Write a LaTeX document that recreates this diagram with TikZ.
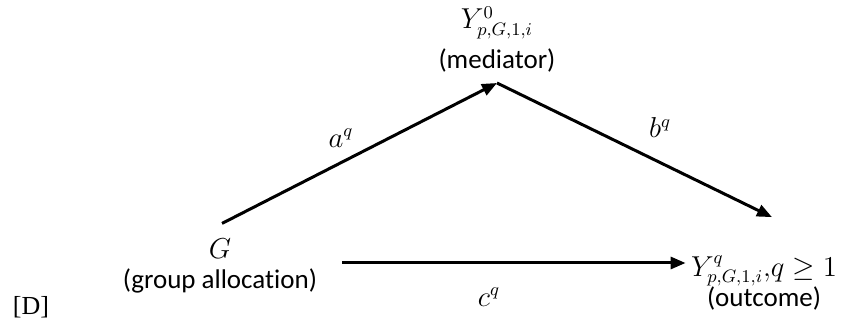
\documentclass[tikz,border=0pt]{standalone}
\usepackage{fontspec}
\setmainfont{Carlito}[Ligatures=NoCommon]
\newfontfamily\tagfont{Liberation Serif}
\usetikzlibrary{arrows.meta,calc}

\begin{document}
\begin{tikzpicture}[
  x=0.5pt, y=-0.5pt,
  font=\fontsize{13.5}{15}\selectfont,
  >={Triangle[length=7.5pt,width=6pt]},
  var/.style={align=center, inner sep=0pt},
  causal/.style={->, line width=1.5pt},
  coef/.style={inner sep=0pt},
]
\useasboundingbox (0,0) rectangle (841,320);

% --- variables ------------------------------------------------------
\node[var] (G) at (220,266) {$G$\\(group allocation)};
\node[var, anchor=south] (M) at (497,73) {$Y^{0}_{p,G,1,i}$\\[4pt](mediator)};
\node[var] (Y) at (764,283) {$Y^{q}_{p,G,1,i}{,}q \geq 1$\\(outcome)};
\node[font=\tagfont\fontsize{13}{15}\selectfont, inner sep=0pt] (tag) at (31,307) {[D]};

% --- effects --------------------------------------------------------
\draw[causal] ([shift={(2,-15)}]G.north) -- ([shift={(0,10)}]M.south);
\draw[causal] ([shift={(0,10)}]M.south) -- ([shift={(8,-38)}]Y.north);
\draw[causal] ($(G.east)+(25,-3)$) -- ($(G.east -| Y.west)+(-5,-3)$);

\node[coef] (aq) at (341,138) {$a^{q}$};
\node[coef] (bq) at (660,128) {$b^{q}$};
\node[coef] (cq) at (489,297) {$c^{q}$};

\end{tikzpicture}
\end{document}
